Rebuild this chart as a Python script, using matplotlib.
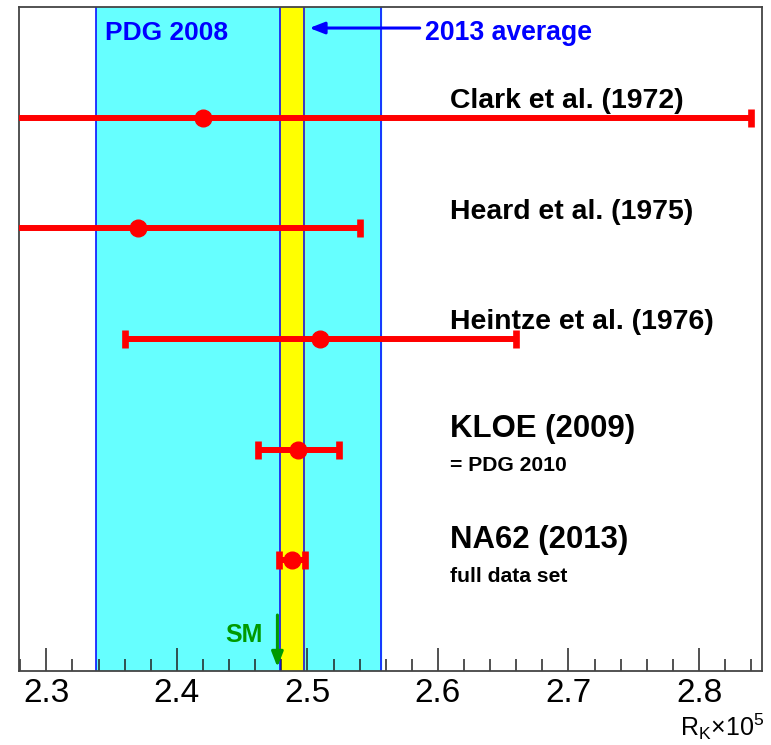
import numpy as np
import matplotlib
matplotlib.use("Agg")
import matplotlib.pyplot as plt
from matplotlib.ticker import MultipleLocator

plt.rcParams['font.family'] = ['Liberation Sans', 'DejaVu Sans']
plt.rcParams['mathtext.fontset'] = 'custom'
plt.rcParams['mathtext.rm'] = 'Liberation Sans'
plt.rcParams['mathtext.it'] = 'Liberation Sans'

# measurements of R_K x 10^5
labels = ["Clark et al. (1972)", "Heard et al. (1975)", "Heintze et al. (1976)",
          "KLOE (2009)", "NA62 (2013)"]
notes = ["", "", "", "= PDG 2010", "full data set"]
values = [2.42, 2.37, 2.51, 2.493, 2.488]
errors = [0.42, 0.17, 0.15, 0.031, 0.010]
rows = [5, 4, 3, 2, 1]

pdg2008 = (2.447, 0.109)
avg2013 = (2.488, 0.009)
sm_value = 2.477

fig = plt.figure(figsize=(7.71, 7.45), dpi=100)
ax = fig.add_axes([0.0246, 0.0993, 0.9633, 0.8913])

# bands
ax.axvspan(pdg2008[0] - pdg2008[1], pdg2008[0] + pdg2008[1], color='#66ffff', zorder=0)
ax.axvspan(avg2013[0] - avg2013[1], avg2013[0] + avg2013[1], color='#ffff00', zorder=1)
for xe in [pdg2008[0] - pdg2008[1], pdg2008[0] + pdg2008[1],
           avg2013[0] - avg2013[1], avg2013[0] + avg2013[1]]:
    ax.axvline(xe, color='#0000ff', lw=1.1, zorder=2)

# points
ax.errorbar(values, rows, xerr=errors, fmt='o', color='#ff0000', ms=12,
            elinewidth=4.3, capsize=6.3, capthick=4.8, zorder=5)

for lab, note, r in zip(labels, notes, rows):
    if note:
        ax.text(2.609, r + 0.114, lab, fontsize=22.4, fontweight='bold', va='baseline')
        ax.text(2.609, r - 0.193, note, fontsize=15.2, fontweight='bold', va='baseline')
    else:
        ax.text(2.609, r + 0.087, lab, fontsize=20.4, fontweight='bold', va='baseline')

# PDG 2008 and 2013 average labels
ax.text(2.3447, 5.70, "PDG 2008", fontsize=19, fontweight='bold', color='#0000ff', va='baseline')
ax.text(2.59, 5.70, "2013 average", fontsize=19.2, fontweight='bold', color='#0000ff', va='baseline')
ax.annotate("", xy=(avg2013[0] + avg2013[1] + 0.0045, 5.81), xytext=(2.586, 5.81),
            arrowprops=dict(arrowstyle='-|>,head_length=0.9,head_width=0.35',
                            color='#0000ff', lw=2.2, shrinkA=0, shrinkB=0))

# SM arrow
ax.annotate("", xy=(sm_value, 0.036), xytext=(sm_value, 0.506),
            arrowprops=dict(arrowstyle='-|>,head_length=0.9,head_width=0.35',
                            color='#009a00', lw=2.2, shrinkA=0, shrinkB=0), zorder=6)
ax.text(2.4657, 0.262, "SM", fontsize=18, fontweight='bold', color='#009a00',
        ha='right', va='baseline')

ax.set_xlim(2.279, 2.848)
ax.set_ylim(0, 6)
ax.xaxis.set_major_locator(MultipleLocator(0.1))
ax.xaxis.set_minor_locator(MultipleLocator(0.02))
ax.tick_params(axis='x', which='major', direction='in', length=16.5, width=1.1,
               labelsize=24, pad=5, color='#222222')
ax.tick_params(axis='x', which='minor', direction='in', length=8.5, width=1.1, color='#222222')
ax.set_yticks([])
for sp in ax.spines.values():
    sp.set_color('#444444')
    sp.set_linewidth(1.3)

fig.text(764 / 771, 1 - 736 / 745, r'R$_{\mathrm{K}}$$\times$10$^{5}$', fontsize=18,
         ha='right', va='baseline')

fig.savefig("out.png", dpi=100)
